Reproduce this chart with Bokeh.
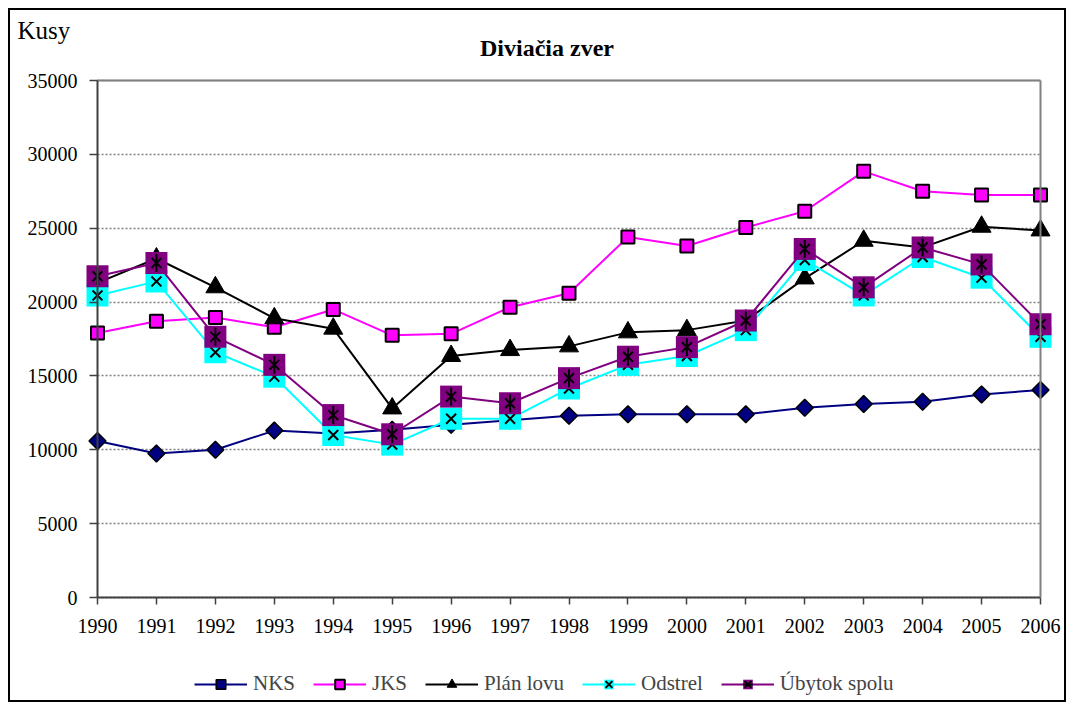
import math
from bokeh.plotting import figure
from bokeh.models import FixedTicker, Legend, LegendItem, Label, Range1d, LinearAxis
from bokeh.embed import file_html
from bokeh.resources import INLINE

years = list(range(1990, 2007))
nks = [10600, 9750, 10000, 11300, 11100, 11350, 11700, 12000, 12300, 12400, 12400, 12400, 12850, 13100, 13250, 13750, 14050]
jks = [17900, 18700, 18950, 18300, 19500, 17750, 17850, 19650, 20600, 24400, 23800, 25050, 26150, 28850, 27500, 27250, 27250]
plan = [21300, 22950, 21000, 18900, 18200, 12800, 16350, 16750, 17000, 17950, 18100, 18750, 21600, 24150, 23700, 25100, 24850]
odstrel = [20450, 21400, 16600, 14950, 11000, 10350, 12100, 12100, 14150, 15750, 16350, 18100, 22850, 20450, 23050, 21650, 17650]
ubytok = [21750, 22650, 17650, 15750, 12350, 11050, 13600, 13150, 14850, 16300, 16950, 18750, 23600, 21000, 23700, 22550, 18500]
y_ticks = [0, 5000, 10000, 15000, 20000, 25000, 30000, 35000]

FONT = "'Liberation Serif', 'Times New Roman', serif"

# ---- layout (pixels) ----
W, H = 1058, 694                 # canvas
PLOT_L, PLOT_R = 87, 28          # space left / right of the plot area
PLOT_T, PLOT_B = 70, 107         # space above / below the plot area
PW, PH = W - PLOT_L - PLOT_R, H - PLOT_T - PLOT_B
x0, x1 = years[0], years[-1]
y0, y1 = y_ticks[0], y_ticks[-1]
px_x = PW / (x1 - x0)            # pixels per year
px_y = PH / (y1 - y0)            # pixels per unit

p = figure(width=W, height=H, output_backend="svg", toolbar_location=None,
           x_range=Range1d(x0 - PLOT_L / px_x, x1 + PLOT_R / px_x),
           y_range=Range1d(y0 - PLOT_B / px_y, y1 + PLOT_T / px_y),
           min_border=0)
p.styles = {"border": "2px solid black", "margin-left": "8px", "margin-top": "8px"}
p.outline_line_color = None

yt = FixedTicker(ticks=y_ticks)
p.xgrid.grid_line_color = None
p.ygrid.ticker = yt
p.ygrid.bounds = (y0, y1)
p.ygrid.grid_line_color = "#808080"
p.ygrid.grid_line_dash = "2 2"
p.ygrid.grid_line_width = 1.5
try:
    p.ygrid.cross_bounds = (x0, x1)
except Exception:
    p.ygrid.visible = False
    p.segment(x0=[x0] * len(y_ticks), x1=[x1] * len(y_ticks), y0=y_ticks, y1=y_ticks,
              line_color="#808080", line_dash="2 2", line_width=1.5)

for ax in (p.xaxis[0], p.yaxis[0]):
    ax.axis_line_color = "#404040"
    ax.axis_line_width = 2
    ax.major_tick_line_color = "#404040"
    ax.major_tick_line_width = 1.5
    ax.major_tick_in = 0
    ax.minor_tick_line_color = None
    ax.major_label_text_font = FONT
    ax.major_label_text_font_size = "20px"
    ax.major_label_text_color = "black"

p.xaxis.ticker = FixedTicker(ticks=years)
p.xaxis.fixed_location = y0
p.xaxis.bounds = (x0, x1)
p.xaxis.major_tick_out = 7
p.xaxis.major_label_standoff = 14
p.yaxis.ticker = yt
p.yaxis.fixed_location = x0
p.yaxis.bounds = (y0, y1)
p.yaxis.major_tick_out = 8
p.yaxis.major_label_standoff = 12

# plot-area border (top and right)
top_axis = LinearAxis(fixed_location=y1, bounds=(x0, x1), ticker=FixedTicker(ticks=[]),
                      axis_line_color="#808080", axis_line_width=2,
                      major_tick_line_color=None, minor_tick_line_color=None)
p.add_layout(top_axis, "above")
right_axis = LinearAxis(fixed_location=x1, bounds=(y0, y1), ticker=FixedTicker(ticks=[]),
                        axis_line_color="#808080", axis_line_width=2,
                        major_tick_line_color=None, minor_tick_line_color=None)
p.add_layout(right_axis, "right")

r_nks_l = p.line(years, nks, line_color="#000080", line_width=2)
r_nks_m = p.scatter(years, nks, marker="square", angle=math.pi / 4, size=12,
                    fill_color="#000080", line_color="black", line_width=1.5)

r_jks_l = p.line(years, jks, line_color="#FF00FF", line_width=2)
r_jks_m = p.scatter(years, jks, marker="square", size=13, fill_color="#FF00FF", line_color="black", line_width=2)

r_plan_l = p.line(years, plan, line_color="black", line_width=2)
r_plan_m = p.scatter(years, plan, marker="triangle", size=19, fill_color="black", line_color="black", line_width=1)

r_od_l = p.line(years, odstrel, line_color="#00FFFF", line_width=2)
r_od_s = p.scatter(years, odstrel, marker="square", size=22, fill_color="#00FFFF", line_color=None)
r_od_x = p.scatter(years, odstrel, marker="x", size=14, line_color="black", line_width=2)

r_ub_l = p.line(years, ubytok, line_color="#800080", line_width=2)
r_ub_s = p.scatter(years, ubytok, marker="square", size=22, fill_color="#800080", line_color=None)
r_ub_x = p.scatter(years, ubytok, marker="x", size=14, line_color="black", line_width=2)
r_ub_v = p.scatter(years, ubytok, marker="dash", angle=math.pi / 2, size=18, line_color="black", line_width=2)

legend = Legend(items=[
    LegendItem(label="NKS", renderers=[r_nks_l, r_nks_m]),
    LegendItem(label="JKS", renderers=[r_jks_l, r_jks_m]),
    LegendItem(label="Plán lovu", renderers=[r_plan_l, r_plan_m]),
    LegendItem(label="Odstrel", renderers=[r_od_l, r_od_s, r_od_x]),
    LegendItem(label="Úbytok spolu", renderers=[r_ub_l, r_ub_s, r_ub_x, r_ub_v]),
], orientation="horizontal", location=(184, 8))
legend.border_line_color = None
legend.background_fill_alpha = 0
legend.label_text_font = FONT
legend.label_text_font_size = "21px"
legend.glyph_width = 53
legend.glyph_height = 24
legend.label_standoff = 6
legend.spacing = 18
legend.margin = 0
legend.padding = 2
p.add_layout(legend)

# title and unit label, placed relative to the plot area
p.add_layout(Label(x=x0 + 449.5 / px_x, y=y1 + 33 / px_y, text="Diviačia zver",
                   text_align="center", text_baseline="alphabetic",
                   text_font=FONT, text_font_size="24px", text_font_style="bold", text_color="black"))
p.add_layout(Label(x=x0 - 80 / px_x, y=y1 + 50 / px_y, text="Kusy",
                   text_align="left", text_baseline="alphabetic",
                   text_font=FONT, text_font_size="25px", text_color="black"))

open("out.html", "w").write(file_html(p, INLINE))
